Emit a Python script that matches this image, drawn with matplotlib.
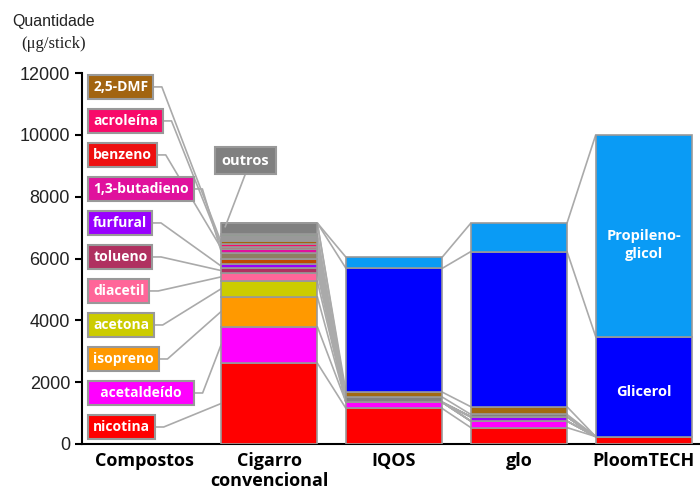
import numpy as np
import matplotlib
matplotlib.use('Agg')
import matplotlib.pyplot as plt

# categorias do eixo x
produtos = ['Compostos', 'Cigarro\nconvencional', 'IQOS', 'glo', 'PloomTECH']

# camadas empilhadas, de baixo para cima
camadas = ['nicotina', 'acetaldeído', 'isopreno', 'acetona', 'diacetil', 'tolueno',
           'furfural', 'laranja', 'oliva', '1,3-butadieno', 'benzeno', 'acroleína',
           '2,5-DMF', 'cinza', 'verde', 'outros', 'marrom', 'Glicerol', 'Propileno-glicol']
cores = ['#FF0000', '#FF00FF', '#FF9900', '#CCCC00', '#FF6699', '#B03060',
         '#9900FF', '#C04A00', '#8E7F62', '#E0119D', '#EE1010', '#F80A6A',
         '#A26410', '#999999', '#77AA77', '#808080', '#A26A10', '#0000FF', '#0A9BF5']

# quantidades (ug/stick)
cigarro = [2620, 1180, 970, 500, 270, 140, 150, 170, 170, 130, 80, 90, 110, 150, 60, 360, 0, 0, 0]
iqos = [1150, 200, 0, 0, 0, 0, 0, 0, 0, 0, 0, 0, 0, 0, 0, 170, 160, 4000, 360]
glo = [530, 210, 0, 0, 0, 0, 140, 0, 0, 0, 0, 0, 0, 0, 0, 75, 250, 5020, 920]
ploomtech = [240, 0, 0, 0, 0, 0, 0, 0, 0, 0, 0, 0, 0, 0, 0, 0, 0, 3230, 6530]

# compostos com rotulo na coluna "Compostos", de baixo para cima
rotulos = ['nicotina', 'acetaldeído', 'isopreno', 'acetona', 'diacetil', 'tolueno',
           'furfural', '1,3-butadieno', 'benzeno', 'acroleína', '2,5-DMF']

fig = plt.figure(figsize=(7, 5), dpi=100)
ax = fig.add_axes([0.117, 0.112, 0.883, 0.742])

x = np.arange(1, 5)
w = 0.77
valores = np.array([cigarro, iqos, glo, ploomtech], dtype=float)
topo = np.cumsum(valores, axis=1)
base = topo - valores

for j, nome in enumerate(camadas):
    ax.bar(x, valores[:, j], w, bottom=base[:, j], color=cores[j],
           edgecolor='#999999', linewidth=1.2, zorder=3)

# linhas de ligacao entre barras vizinhas
for i in range(len(x) - 1):
    for j in range(len(camadas)):
        ax.plot([x[i] + w / 2, x[i + 1] - w / 2], [topo[i, j], topo[i + 1, j]],
                color='#AAAAAA', lw=1.2, zorder=2, solid_capstyle='butt')

caixa = dict(boxstyle='square,pad=0.35', ec='#999999', lw=1.5)
textos = []
for k, nome in enumerate(rotulos):
    j = camadas.index(nome)
    y = 550 + 1100 * k
    texto = '  ' + nome + '  ' if nome == 'acetaldeído' else nome
    t = ax.text(-0.41, y, texto, ha='left', va='center', color='white',
                fontweight='bold', fontsize=10, family='Open Sans',
                bbox=dict(caixa, fc=cores[j]), zorder=5)
    textos.append((t, j, y))

t_outros = ax.text(0.808, 9160, 'outros', ha='center', va='center', color='white',
                   fontweight='bold', fontsize=10.5, family='Open Sans',
                   bbox=dict(caixa, boxstyle='square,pad=0.45', fc='#808080'), zorder=5)

ax.text(4, 6440, 'Propileno-\nglicol', ha='center', va='center', color='white',
        fontweight='bold', fontsize=10.5, family='Open Sans', linespacing=1.4, zorder=5)
ax.text(4, 1680, 'Glicerol', ha='center', va='center', color='white',
        fontweight='bold', fontsize=10.5, family='Open Sans', zorder=5)

ax.set_xlim(-0.5, 4.45)
ax.set_ylim(0, 12000)
ax.set_yticks(range(0, 12001, 2000))
ax.set_xticks(range(len(produtos)))
ax.set_xticklabels(produtos, fontweight='bold', fontsize=13, family='Open Sans',
                   linespacing=1.1)
ax.tick_params(axis='x', length=0, pad=6)
ax.tick_params(axis='y', direction='out', length=5, width=1.5, labelsize=13,
               labelcolor='#222222')
for lab in ax.get_yticklabels():
    lab.set_family('Liberation Sans')
for s in ['top', 'right']:
    ax.spines[s].set_visible(False)
for s in ['left', 'bottom']:
    ax.spines[s].set_linewidth(1.5)

fig.text(0.076, 0.957, 'Quantidade', ha='center', va='center', fontsize=11.5,
         family='Liberation Sans', color='#222222')
fig.text(0.076, 0.913, '(μg/stick)', ha='center', va='center', fontsize=12,
         family='Liberation Serif', color='#222222')

# linhas-guia dos rotulos ate a barra do cigarro
fig.canvas.draw()
inv = ax.transData.inverted()
xbar = x[0] - w / 2
for t, j, y in textos:
    ext = t.get_bbox_patch().get_window_extent()
    xr = inv.transform((ext.x1, ext.y0))[0]
    ymid = (base[0, j] + topo[0, j]) / 2
    ax.plot([xr, xr + 0.07, xbar], [y, y, ymid], color='#AAAAAA', lw=1.2,
            zorder=1, clip_on=False)

ext = t_outros.get_bbox_patch().get_window_extent()
xb, yb = inv.transform(((ext.x0 + ext.x1) / 2, ext.y0))
ax.plot([xb, 0.648], [yb, 7030], color='#AAAAAA', lw=1.2, zorder=4)

fig.savefig('out.png', dpi=100)
